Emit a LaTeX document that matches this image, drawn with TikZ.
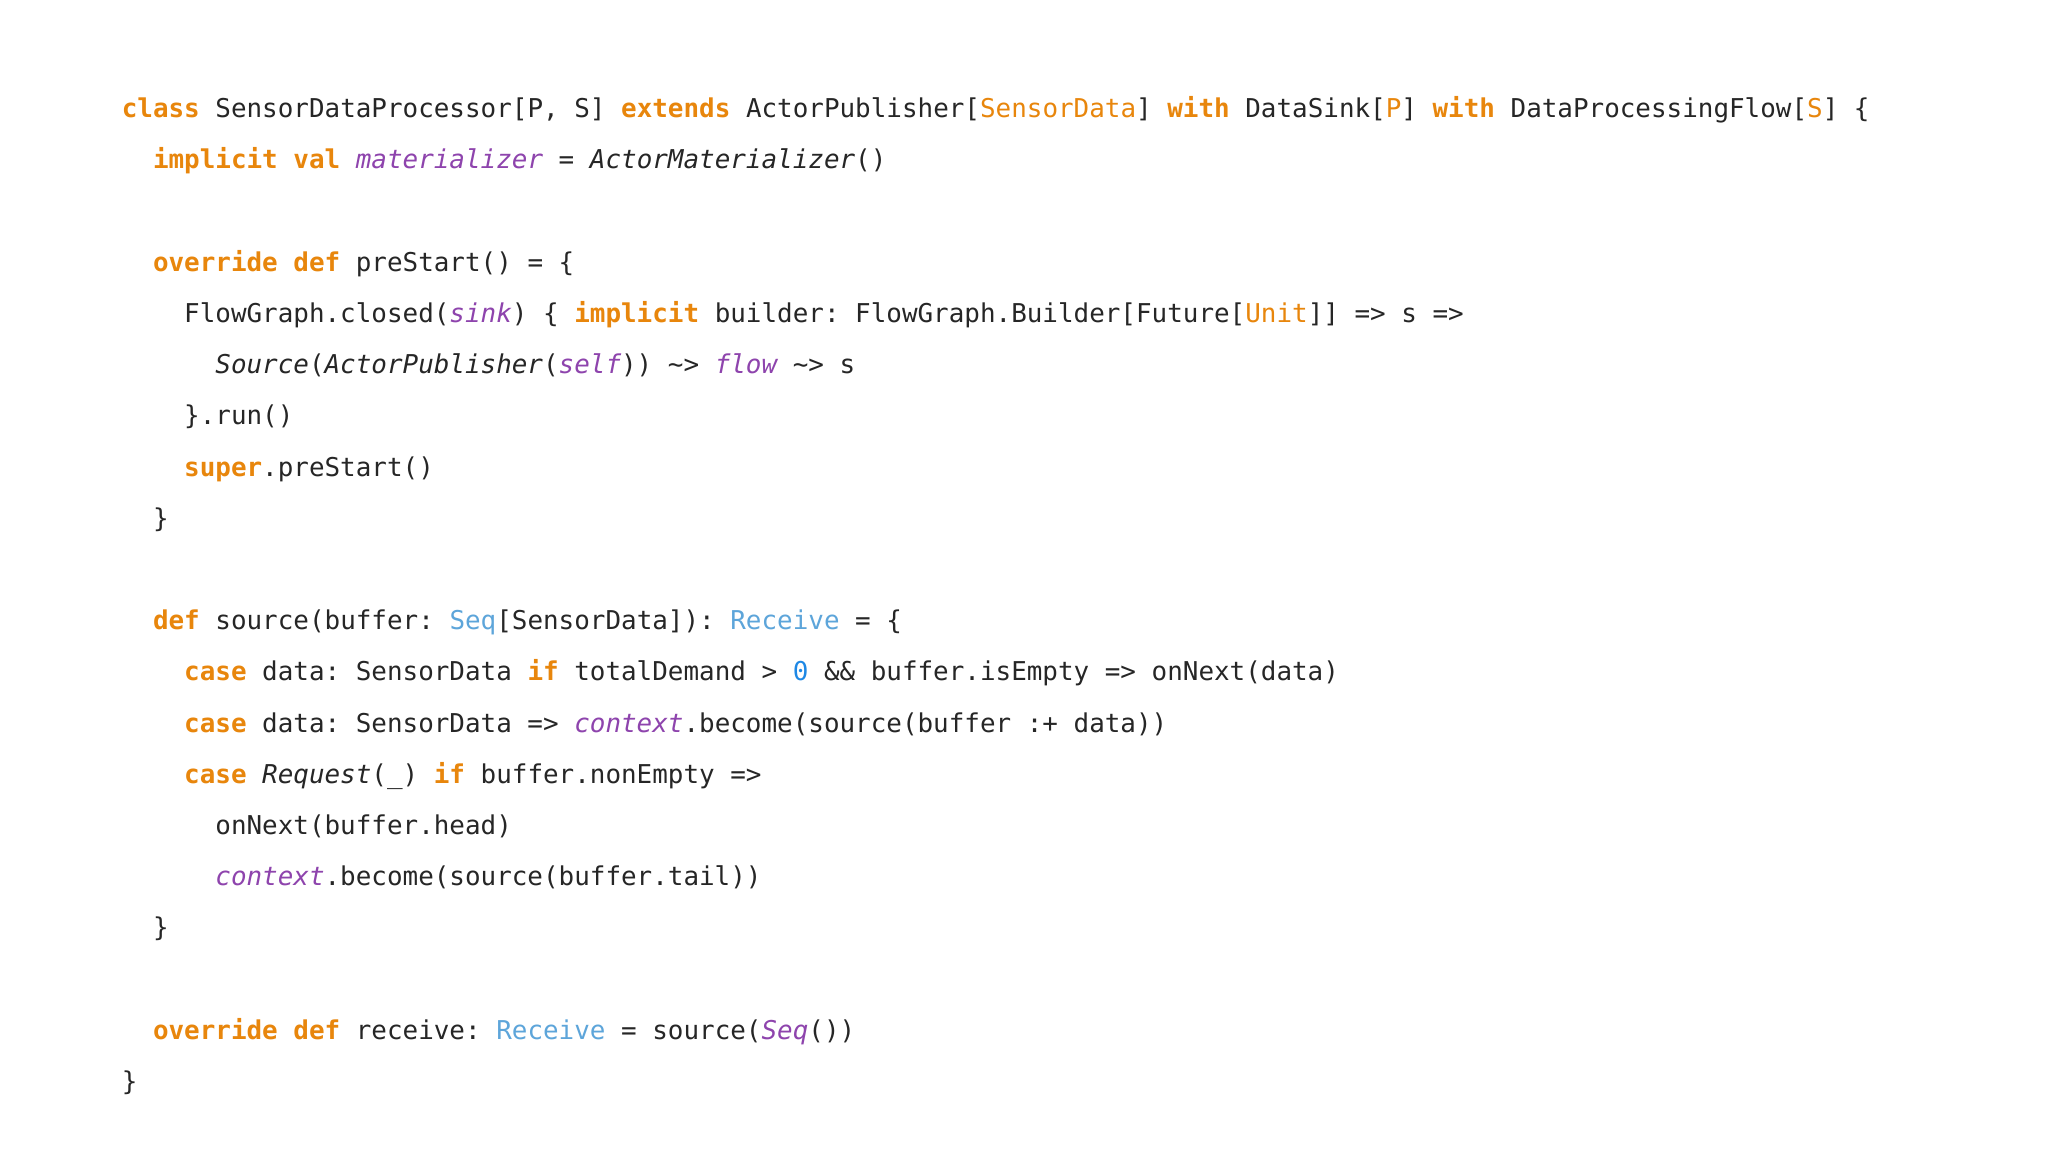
\documentclass[tikz,border=0pt]{standalone}
\usepackage{fontspec}
\setmonofont{DejaVu Sans Mono}
\definecolor{kwc}{HTML}{E8860C}
\definecolor{ivc}{HTML}{8E44AD}
\definecolor{tyc}{HTML}{5DA5DA}
\definecolor{nuc}{HTML}{1E88E5}
\newcommand{\kwd}[1]{\textcolor{kwc}{\bfseries #1}}
\newcommand{\tpar}[1]{\textcolor{kwc}{#1}}
\newcommand{\ivar}[1]{\textcolor{ivc}{\itshape #1}}
\newcommand{\typ}[1]{\textcolor{tyc}{#1}}
\newcommand{\numb}[1]{\textcolor{nuc}{#1}}
\newcommand{\til}{\textasciitilde}
\begin{document}
\begin{tikzpicture}[x=1pt,y=1pt,codeline/.style={anchor=base west,inner sep=0pt,font=\ttfamily\fontsize{12.96}{14}\selectfont,text=black!85}]
\fill[white] (0,0) rectangle (1024,-576);
\useasboundingbox (0,0) rectangle (1024,-576);
\def\lx{60.7}
\def\ch{7.8}
\newcommand{\cl}[4]{\node[codeline] (#1) at ({\lx+#2*\ch},{-58.8-#3*25.6}) {#4};}
\cl{l0}{0}{0}{\kwd{class} SensorDataProcessor[P, S] \kwd{extends} ActorPublisher[\tpar{SensorData}] \kwd{with} DataSink[\tpar{P}] \kwd{with} DataProcessingFlow[\tpar{S}] \{}
\cl{l1}{2}{1}{\kwd{implicit} \kwd{val} \ivar{materializer} = {\itshape ActorMaterializer}()}
\cl{l3}{2}{3}{\kwd{override} \kwd{def} preStart() = \{}
\cl{l4}{4}{4}{FlowGraph.closed(\ivar{sink}) \{ \kwd{implicit} builder: FlowGraph.Builder[Future[\tpar{Unit}]] => s =>}
\cl{l5}{6}{5}{{\itshape Source}({\itshape ActorPublisher}(\ivar{self})) \til> \ivar{flow} \til> s}
\cl{l6}{4}{6}{\}.run()}
\cl{l7}{4}{7}{\kwd{super}.preStart()}
\cl{l8}{2}{8}{\}}
\cl{l10}{2}{10}{\kwd{def} source(buffer: \typ{Seq}[SensorData]): \typ{Receive} = \{}
\cl{l11}{4}{11}{\kwd{case} data: SensorData \kwd{if} totalDemand > \numb{0} \&\& buffer.isEmpty => onNext(data)}
\cl{l12}{4}{12}{\kwd{case} data: SensorData => \ivar{context}.become(source(buffer :+ data))}
\cl{l13}{4}{13}{\kwd{case} {\itshape Request}(\_) \kwd{if} buffer.nonEmpty =>}
\cl{l14}{6}{14}{onNext(buffer.head)}
\cl{l15}{6}{15}{\ivar{context}.become(source(buffer.tail))}
\cl{l16}{2}{16}{\}}
\cl{l18}{2}{18}{\kwd{override} \kwd{def} receive: \typ{Receive} = source(\ivar{Seq}())}
\cl{l19}{0}{19}{\}}
\end{tikzpicture}
\end{document}
